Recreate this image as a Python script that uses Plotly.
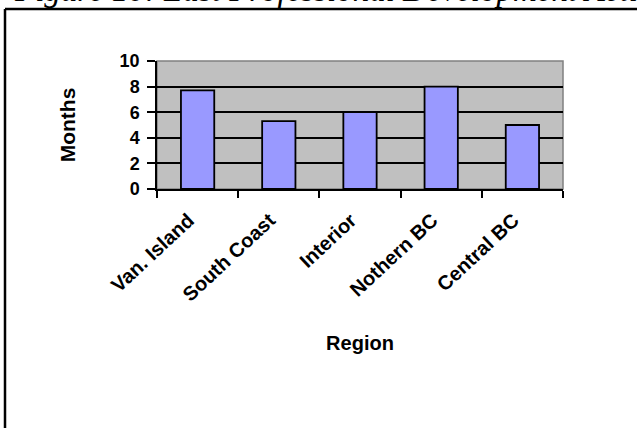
import plotly.graph_objects as go

regions = ["Van. Island", "South Coast", "Interior", "Nothern BC", "Central BC"]
months = [7.7, 5.3, 6.0, 8.0, 5.0]
y_ticks = [0, 2, 4, 6, 8, 10]

W, H = 637, 428
L, R, T, B = 157, 563, 61, 189
pw, ph = R - L, B - T

def px_x(p):
    return (p - L) / pw

def px_y(p):
    return (B - p) / ph

SANS = "Liberation Sans, Arial"
font_tick = dict(family=SANS, size=18, color="black")
font_cat = dict(family=SANS, size=20, color="black")
font_title = dict(family=SANS, size=20, color="black")
font_ytitle = dict(family=SANS, size=21, color="black")

fig = go.Figure()
fig.add_trace(go.Bar(
    x=regions, y=months,
    marker=dict(color="#9999FF", line=dict(color="black", width=1.8)),
    width=0.41,
))

fig.update_layout(
    width=W, height=H,
    margin=dict(l=L, r=W - R, t=T, b=H - B, pad=0),
    paper_bgcolor="white",
    plot_bgcolor="#C0C0C0",
    showlegend=False,
    xaxis=dict(
        tickangle=-43,
        tickfont=font_cat,
        tickvals=regions, ticktext=[f"<b>{r}</b>" for r in regions],
        ticks="outside", ticklen=7, tickwidth=1.5, tickcolor="black",
        tickson="boundaries",
        ticklabelshift=-9, ticklabelstandoff=10,
        showline=True, linecolor="black", linewidth=1.5,
        showgrid=False,
        title=dict(text="<b>Region</b>", font=font_title, standoff=32),
        range=[-0.5, 4.5],
    ),
    yaxis=dict(
        range=[0, 10], tickvals=y_ticks,
        ticktext=[f"<b>{v}</b>" for v in y_ticks],
        tickfont=font_tick,
        ticks="outside", ticklen=8, tickwidth=1.5, tickcolor="black",
        ticklabelstandoff=4,
        showline=True, linecolor="black", linewidth=1.5,
        showgrid=True, gridcolor="black", gridwidth=1.8,
        zeroline=False,
        title=dict(text="<b>Months</b>", font=font_ytitle, standoff=38),
    ),
)

# gray plot-area border (top/right)
fig.add_shape(type="rect", xref="paper", yref="paper", x0=0, y0=0, x1=1, y1=1,
              line=dict(color="#808080", width=1.5), layer="below")

# outer document frame (left and top edges)
fig.add_shape(type="line", xref="paper", yref="paper",
              x0=px_x(5), y0=px_y(9), x1=px_x(660), y1=px_y(9),
              line=dict(color="black", width=2.5))
fig.add_shape(type="line", xref="paper", yref="paper",
              x0=px_x(5), y0=px_y(9), x1=px_x(5), y1=px_y(460),
              line=dict(color="black", width=2.5))

# clipped caption at the very top
fig.add_annotation(text="<i>Figure 10: Last Professional Development Activity</i>",
                   xref="paper", yref="paper", x=px_x(12), y=px_y(10),
                   xanchor="left", yanchor="bottom", showarrow=False,
                   font=dict(family="Liberation Serif, Times New Roman", size=33, color="black"))

fig.write_html("out.html", config={"displayModeBar": False},
               post_script="document.body.style.margin='0';document.body.style.overflow='hidden';")
